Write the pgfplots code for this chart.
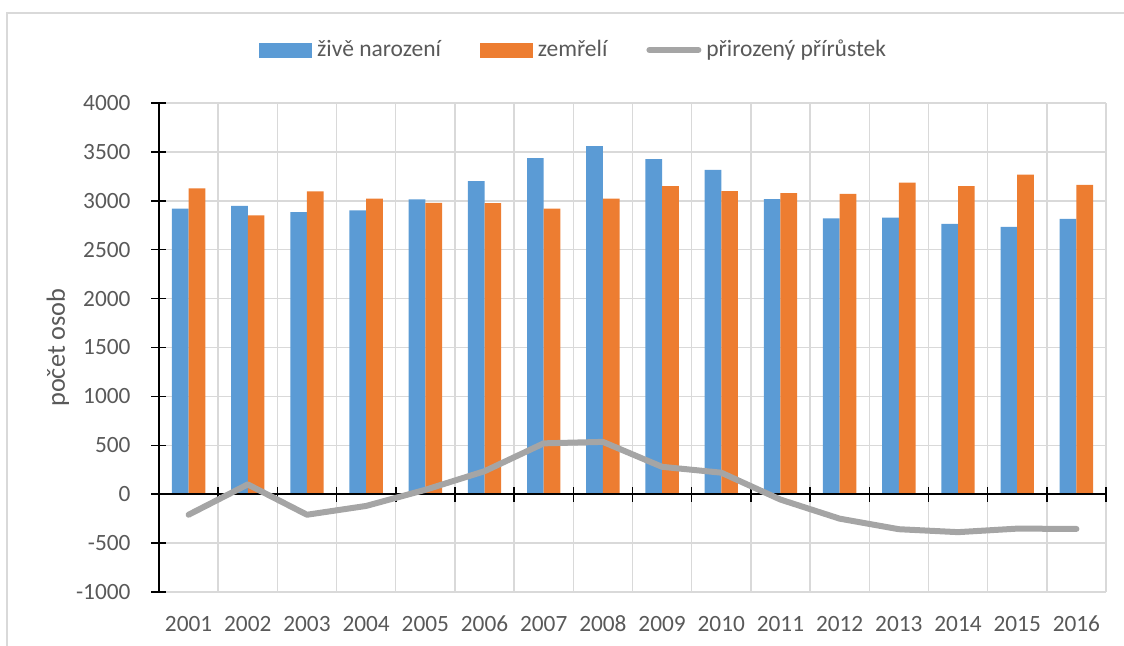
\documentclass[border=0pt]{standalone}
\usepackage{fontspec}
\setmainfont{Carlito}
\usepackage{pgfplots}
\pgfplotsset{compat=1.18}
\definecolor{cBlue}{HTML}{5B9BD5}
\definecolor{cOrange}{HTML}{ED7D31}
\definecolor{cGray}{HTML}{A5A5A5}
\definecolor{cGrid}{HTML}{D9D9D9}
\definecolor{cText}{HTML}{595959}

\pgfplotsset{
  common/.style={
    at={(0,0)}, anchor=south west,
    width=473.5bp, height=244.5bp, scale only axis,
    xmin=-0.5, xmax=15.5, ymin=-1000, ymax=4000,
    font=\fontsize{11.7}{14}\selectfont,
    /pgf/number format/1000 sep={},
    /pgf/number format/assume math mode=true,
  }
}

\begin{document}
\begin{tikzpicture}
\useasboundingbox (-79.5bp,-27bp) rectangle (482.5bp,296bp);
\draw[cGrid, line width=1bp] (-76.15bp,-40bp) -- (-76.15bp,289.65bp) -- (500bp,289.65bp);

\begin{axis}[common,
  axis x line*=bottom, axis y line*=left,
  x axis line style={draw=none},
  y axis line style={black, line width=0.75bp},
  xtick={0,...,15},
  xticklabels={2001,2002,2003,2004,2005,2006,2007,2008,2009,2010,2011,2012,2013,2014,2015,2016},
  xtick style={draw=none},
  minor xtick={-0.5,0.5,...,15.5},
  xminorgrids=true, xmajorgrids=false,
  minor grid style={cGrid, line width=0.75bp},
  ytick={-1000,-500,...,4000},
  ymajorgrids=true,
  major grid style={cGrid, line width=0.75bp},
  ytick style={black, line width=0.75bp},
  ytick align=center,
  major tick length=7.5bp,
  tick label style={text=cText},
  x tick label style={text height=7.6bp, text depth=0bp, yshift=-1.2bp},
  y tick label style={xshift=-7bp},
  ylabel={počet osob},
  ylabel style={at={(axis description cs:-0.1067,0.5)}, anchor=center, text=cText,
    font=\fontsize{13.2}{15}\selectfont},
  ybar=0pt, bar width=8.35bp,
]
\addplot[fill=cBlue, draw=none] coordinates {
(0,2919) (1,2949) (2,2885) (3,2902) (4,3014) (5,3202) (6,3437) (7,3560)
(8,3427) (9,3315) (10,3018) (11,2820) (12,2827) (13,2765) (14,2734) (15,2816)};
\addplot[fill=cOrange, draw=none] coordinates {
(0,3126) (1,2850) (2,3096) (3,3021) (4,2980) (5,2977) (6,2919) (7,3021)
(8,3151) (9,3100) (10,3079) (11,3072) (12,3185) (13,3151) (14,3267) (15,3164)};
\end{axis}

\begin{axis}[common,
  axis x line*=middle, axis y line=none,
  x axis line style={black, line width=0.75bp},
  xtick={-0.5,0.5,...,15.5},
  xticklabel style={opacity=0, text opacity=0},
  xtick style={black, line width=0.75bp},
  xtick align=center, major tick length=7.5bp,
  ytick=\empty,
  legend columns=3,
  legend style={at={(axis description cs:0.4395,1.1084)}, anchor=center,
    draw=none, fill=none, text=cText,
    font=\fontsize{11.8}{14}\selectfont,
    /tikz/every even column/.append style={column sep=17bp},
    nodes={inner xsep=2.5bp, inner ysep=1bp}},
  legend cell align=left,
]
\addlegendimage{legend image code/.code={\fill[cBlue] (0bp,-3.5bp) rectangle (26bp,3.5bp);}}
\addlegendentry{živě narození}
\addlegendimage{legend image code/.code={\fill[cOrange] (0bp,-3.5bp) rectangle (26bp,3.5bp);}}
\addlegendentry{zemřelí}
\addplot[cGray, line width=3bp, line join=round, line cap=round, mark=none,
  legend image code/.code={\draw[cGray, line width=3bp, line cap=round] (1.5bp,0bp) -- (26bp,0bp);}]
coordinates {
(0,-210) (1,100) (2,-210) (3,-120) (4,45) (5,235) (6,520) (7,535)
(8,280) (9,220) (10,-55) (11,-250) (12,-358) (13,-388) (14,-352) (15,-355)};
\addlegendentry{přirozený přírůstek}
\end{axis}
\end{tikzpicture}
\end{document}
